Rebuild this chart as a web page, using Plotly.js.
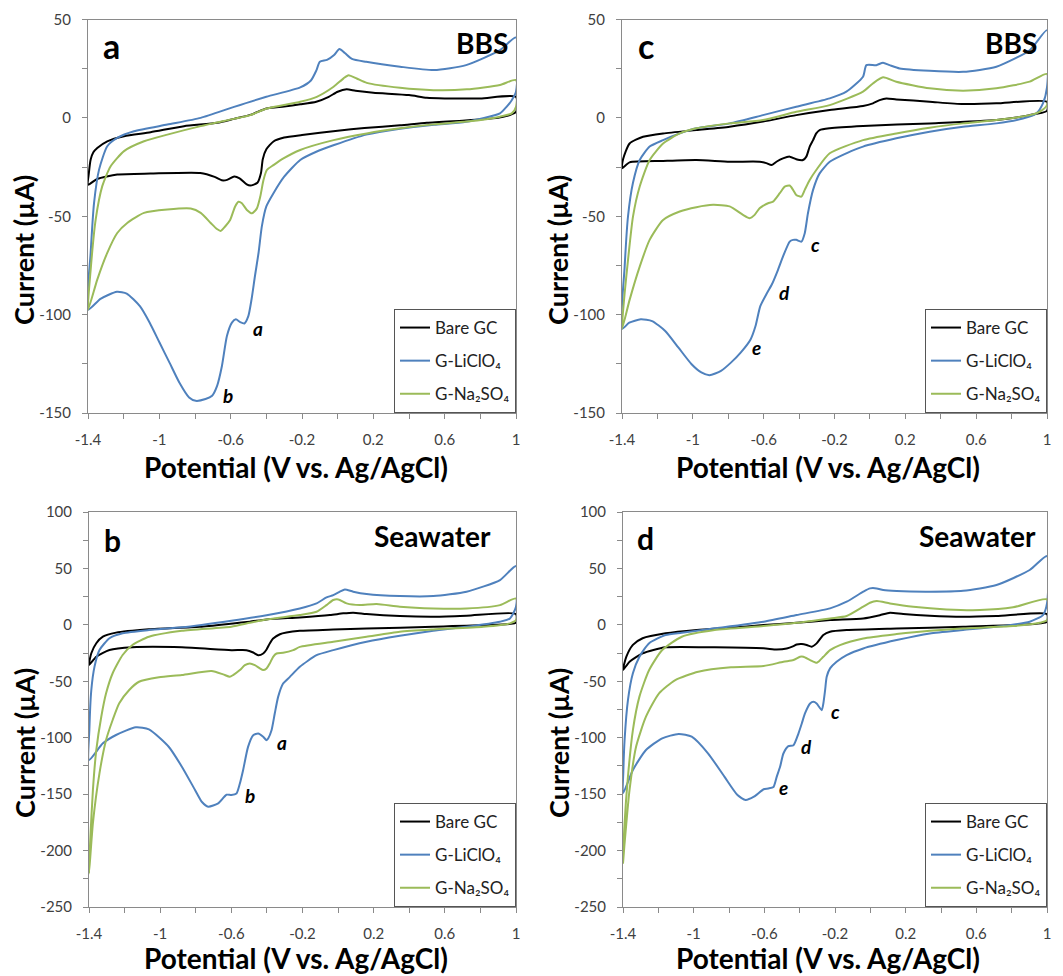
<!DOCTYPE html>
<html>
<head>
<meta charset="utf-8">
<script src="https://cdn.plot.ly/plotly-3.0.1.min.js"></script>
<style>html,body{margin:0;padding:0;background:#fff}#chart{width:1063px;height:976px}</style>
</head>
<body>
<div id="chart"></div>
<script>
// ---------- DATA (Potential V vs Ag/AgCl, Current µA), closed CV loops ----------
// Panel a (BBS)
const aBareV = [-1.40,-1.395,-1.385,-1.37,-1.348,-1.292,-1.198,-1.049,-0.862,-0.675,-0.581,-0.49,-0.40,-0.30,-0.21,-0.12,-0.05,0.0,0.05,0.10,0.20,0.40,0.50,0.60,0.80,1.0,
  1.0,0.95,0.90,0.80,0.70,0.50,0.35,0.15,0.0,-0.20,-0.30,-0.36,-0.40,-0.42,-0.43,-0.45,-0.49,-0.51,-0.55,-0.58,-0.62,-0.65,-0.69,-0.77,-1.05,-1.236,-1.348,-1.40];
const aBareI = [-34,-28,-21.2,-17.5,-15.3,-11.9,-9.3,-7.3,-4.2,-2.5,-0.5,1.5,4.8,5.8,6.9,8.2,10.7,13.3,14.5,13.8,12.8,11.6,10.2,9.9,9.9,10.7,
  3,1,0,-0.8,-1.4,-2.5,-3.8,-5.2,-6.5,-8.7,-10,-12,-16,-21,-28,-33,-34.4,-33.8,-30.7,-29.8,-31.5,-31.7,-30,-28,-28.3,-28.8,-31,-34];
const aLiV = [-1.40,-1.385,-1.366,-1.338,-1.292,-1.236,-1.142,-0.955,-0.768,-0.581,-0.40,-0.21,-0.15,-0.12,-0.10,-0.06,-0.02,0.01,0.04,0.08,0.16,0.35,0.54,0.72,0.91,1.0,
  1.0,0.976,0.948,0.91,0.72,0.54,0.35,0.16,-0.02,-0.12,-0.21,-0.30,-0.36,-0.40,-0.425,-0.444,-0.464,-0.483,-0.501,-0.523,-0.547,-0.571,-0.593,-0.621,-0.649,-0.676,-0.704,-0.741,-0.796,-0.833,-0.888,-0.943,-0.999,-1.054,-1.109,-1.183,-1.238,-1.33,-1.40];
const aLiI = [-97.5,-68.6,-43.2,-26.3,-14.4,-10.2,-6.8,-3.4,0,5.6,10.7,15.5,19,24,28.5,29.5,32,35,33,30,28.5,26,24.3,26.8,34.4,40.9,
  13.3,9,5.7,2.3,-2,-3.5,-5.5,-8.5,-13.8,-17.2,-21.4,-29.9,-38.3,-45,-55,-68.8,-80.5,-92.3,-100.8,-104.5,-103.8,-102.4,-104.1,-110.9,-126.1,-136.2,-141.2,-142.9,-143.8,-142.1,-134.5,-124.4,-114.2,-104.1,-95.7,-89.3,-88.4,-92,-97.5];
const aNaV = [-1.40,-1.385,-1.357,-1.32,-1.273,-1.198,-1.086,-0.955,-0.768,-0.581,-0.49,-0.397,-0.21,-0.117,-0.023,0.033,0.061,0.107,0.163,0.35,0.537,0.724,0.91,1.0,
  1.0,0.976,0.91,0.724,0.537,0.35,0.163,-0.023,-0.21,-0.304,-0.36,-0.397,-0.416,-0.434,-0.453,-0.48,-0.509,-0.537,-0.556,-0.575,-0.603,-0.631,-0.656,-0.677,-0.712,-0.768,-0.824,-0.955,-1.086,-1.18,-1.236,-1.292,-1.348,-1.40];
const aNaI = [-97.5,-77.1,-51.7,-34.7,-24.6,-16.9,-11.9,-8.5,-4.2,-0.5,1.4,4.8,8.2,10.7,15.8,20.1,21.7,20,17.8,15.3,14.1,14.5,16.7,19.2,
  5.7,2.3,0.6,-1.9,-3.3,-5.3,-7.9,-11.3,-16.3,-20.6,-24,-26.5,-31.6,-40,-46,-48.5,-46.8,-43.4,-42.6,-45,-51.9,-55.2,-57.5,-56.5,-53.4,-48.3,-46.1,-46.6,-48.3,-53.4,-58.5,-68.6,-82.2,-97.5];

// Panel c (BBS)
const cBareV = [-1.40,-1.394,-1.357,-1.281,-1.168,-0.98,-0.792,-0.604,-0.416,-0.227,-0.039,0.017,0.055,0.093,0.149,0.337,0.526,0.714,1.0,
  1.0,0.902,0.714,0.337,-0.039,-0.227,-0.284,-0.303,-0.321,-0.34,-0.359,-0.378,-0.397,-0.416,-0.453,-0.491,-0.528,-0.556,-0.585,-0.623,-0.792,-0.98,-1.168,-1.357,-1.40];
const cBareI = [-25.6,-21,-13,-9.6,-7.9,-6.2,-4.5,-1.9,1.4,4,6,7.4,9,9.9,9.4,8.2,7,7.4,8.2,
  3.6,1.4,-1.1,-2.8,-4.1,-5.3,-6.2,-7.9,-11.3,-14.6,-19.7,-21.4,-21.4,-21,-19.7,-20.6,-22.3,-24,-23,-22.3,-22.3,-21.4,-21.9,-22.6,-25.6];
const cLiV = [-1.40,-1.385,-1.366,-1.338,-1.30,-1.244,-1.168,-1.074,-0.98,-0.792,-0.604,-0.416,-0.227,-0.133,-0.039,-0.02,0.036,0.074,0.111,0.168,0.337,0.526,0.714,0.902,1.0,
  1.0,0.977,0.94,0.864,0.714,0.526,0.337,0.149,-0.039,-0.133,-0.227,-0.284,-0.321,-0.35,-0.368,-0.387,-0.416,-0.434,-0.453,-0.491,-0.519,-0.554,-0.581,-0.619,-0.646,-0.674,-0.73,-0.785,-0.841,-0.906,-0.952,-1.007,-1.081,-1.156,-1.23,-1.294,-1.359,-1.40];
const cLiI = [-107.2,-75.6,-50,-33,-21.4,-14.6,-11.3,-7.9,-5.3,-2.8,1.4,5.7,9.9,13.3,20.9,26.8,26.8,28,26.8,25.1,23.9,23.4,26,34.4,44.6,
  15.5,7.4,2.3,-0.3,-2.8,-4.5,-7,-10.4,-14.6,-18,-22.3,-28.2,-36.6,-48.5,-58.6,-62.9,-62,-62,-62.9,-70.5,-77.2,-84.7,-89,-95.7,-105.8,-112.6,-119.3,-124.4,-128.6,-130.8,-129.4,-125.2,-116.8,-108.3,-103.3,-102.4,-104.1,-107.2];
const cNaV = [-1.40,-1.385,-1.366,-1.338,-1.30,-1.244,-1.168,-1.074,-0.98,-0.792,-0.604,-0.416,-0.227,-0.039,0.017,0.074,0.149,0.337,0.526,0.714,0.902,1.0,
  1.0,0.958,0.902,0.714,0.526,0.337,0.149,-0.039,-0.227,-0.303,-0.34,-0.368,-0.387,-0.416,-0.434,-0.453,-0.481,-0.509,-0.547,-0.575,-0.594,-0.623,-0.651,-0.679,-0.717,-0.792,-0.886,-0.98,-1.074,-1.168,-1.244,-1.30,-1.357,-1.40];
const cNaI = [-107.2,-89,-72.2,-50.2,-34.9,-21.4,-13,-7.9,-5.3,-2.8,-1.1,3.1,6.5,13.3,17.5,20.6,18.4,15,13.8,15,18.4,22.3,
  6.5,3.1,1.4,-1.1,-2.8,-5,-7.9,-11.3,-18,-26.5,-31.6,-36.6,-40,-39.2,-36.6,-34.4,-34.9,-38.3,-42.6,-43.4,-44.2,-45.9,-49.3,-51,-49.3,-45,-44.2,-45.4,-47.6,-51.9,-62,-75.6,-92.5,-107.2];

// Panel b (Seawater)
const bBareV = [-1.40,-1.387,-1.359,-1.322,-1.248,-1.063,-0.777,-0.59,-0.496,-0.402,-0.215,-0.046,0.029,0.085,0.16,0.347,0.535,0.722,1.0,
  1.0,0.816,0.535,0.16,-0.027,-0.215,-0.29,-0.327,-0.365,-0.384,-0.402,-0.421,-0.449,-0.477,-0.515,-0.60,-0.878,-1.156,-1.285,-1.359,-1.40];
const bBareI = [-35.6,-25.2,-16.3,-10.5,-6.9,-3.9,-1.7,1.3,2.8,4.8,6.6,8.7,10.2,10.8,9.6,7.8,7.2,8.1,9.6,
  1.9,-0.2,-1.7,-3.2,-4.1,-5.3,-6.8,-8.3,-12.1,-16.5,-21.8,-25.4,-26.9,-24.5,-22.4,-22.4,-19.9,-19.9,-22.3,-28.2,-35.6];
const bLiV = [-1.40,-1.398,-1.387,-1.369,-1.341,-1.285,-1.211,-1.063,-0.878,-0.60,-0.402,-0.215,-0.121,-0.065,-0.027,0.01,0.038,0.085,0.16,0.347,0.535,0.722,0.91,1.0,
  1.0,0.966,0.91,0.722,0.535,0.347,0.16,-0.027,-0.121,-0.215,-0.271,-0.309,-0.337,-0.356,-0.374,-0.393,-0.402,-0.421,-0.449,-0.477,-0.506,-0.534,-0.552,-0.571,-0.60,-0.627,-0.674,-0.73,-0.765,-0.804,-0.878,-0.952,-1.063,-1.137,-1.248,-1.322,-1.40];
const bLiI = [-119.7,-93.2,-57.7,-37,-22.3,-11.9,-7.5,-4.6,-2.2,3.7,8.6,14.5,19,24.3,26.4,29.4,31.4,29.4,27.3,25.5,25.5,29.4,39.7,52.1,
  16,5.7,2.8,-1.7,-5.2,-9.6,-14.9,-22.4,-26.9,-37.2,-46.1,-52,-63.8,-78.6,-93.4,-100.7,-102.2,-99.2,-96.3,-97.8,-108.1,-128.8,-140.6,-149.5,-150.8,-150.5,-158.1,-161.1,-157,-146.3,-125.7,-108,-92.6,-90.8,-97.6,-105,-119.7];
const bNaV = [-1.40,-1.393,-1.378,-1.359,-1.331,-1.304,-1.267,-1.211,-1.156,-1.063,-0.878,-0.60,-0.496,-0.402,-0.215,-0.121,-0.065,-0.027,0.001,0.048,0.122,0.216,0.347,0.535,0.722,0.91,1.0,
  1.0,0.966,0.816,0.535,0.347,0.16,-0.027,-0.215,-0.252,-0.309,-0.346,-0.365,-0.384,-0.402,-0.421,-0.44,-0.468,-0.496,-0.524,-0.552,-0.59,-0.609,-0.646,-0.711,-0.878,-1.007,-1.119,-1.174,-1.23,-1.267,-1.304,-1.341,-1.378,-1.40];
const bNaI = [-220.4,-190.6,-146.3,-110.9,-81.4,-60.7,-42.9,-26.7,-17.8,-10.5,-5.2,-1.6,1.8,4.8,8.7,11.6,17.5,22,22.5,19,17.5,18.4,16,14.5,14.5,17.5,23.4,
  4.2,1.3,-1.7,-4.1,-6.2,-10.6,-15,-19.5,-22.4,-24.8,-25.4,-28.3,-34.2,-38.6,-40.1,-38.6,-35.7,-34.2,-35.7,-40.1,-44.5,-46,-43.9,-40.9,-44.4,-46.5,-50.4,-57.7,-69.5,-84.3,-102,-131.3,-175.6,-220.4];

// Panel d (Seawater)
const dBareV = [-1.40,-1.381,-1.344,-1.289,-1.159,-0.982,-0.793,-0.605,-0.417,-0.228,-0.04,0.054,0.111,0.186,0.337,0.525,0.714,1.0,
  1.0,0.808,0.525,0.149,-0.134,-0.228,-0.266,-0.304,-0.332,-0.36,-0.388,-0.417,-0.435,-0.473,-0.53,-0.604,-0.881,-1.159,-1.289,-1.363,-1.40];
const dBareI = [-40,-28.2,-17.8,-11.9,-7.5,-4.5,-2.5,-0.2,1.8,4.2,5.7,8.6,10.8,9.6,8.1,7.2,7.8,9.6,
  2.7,-0.2,-1.7,-3.2,-4.6,-6.1,-9,-16.4,-19.4,-17.9,-17,-17.4,-18.8,-20.9,-21.8,-20.8,-19.9,-19.9,-25.2,-32.6,-40];
const dLiV = [-1.40,-1.398,-1.391,-1.372,-1.344,-1.307,-1.252,-1.159,-1.067,-0.881,-0.604,-0.417,-0.228,-0.134,-0.04,-0.002,0.036,0.073,0.149,0.337,0.525,0.714,0.902,1.0,
  1.0,0.977,0.902,0.714,0.525,0.337,0.149,-0.04,-0.134,-0.191,-0.228,-0.247,-0.256,-0.266,-0.275,-0.304,-0.322,-0.341,-0.37,-0.388,-0.407,-0.435,-0.464,-0.492,-0.511,-0.53,-0.548,-0.577,-0.604,-0.659,-0.706,-0.752,-0.826,-0.919,-1.011,-1.085,-1.178,-1.27,-1.344,-1.40];
const dLiI = [-149.3,-130,-102,-66.6,-42.9,-28.2,-16.3,-9,-6.9,-3.1,2.8,8.7,14.6,20.5,29.4,32.3,32.3,30.8,29.9,29.4,30.2,35.3,48.6,61,
  19,8.7,2.8,-1.7,-4.6,-7.6,-13.5,-20.9,-26.8,-32.7,-38.6,-46,-57.8,-69.7,-75.6,-69.7,-68.2,-69.7,-78.5,-87.4,-96.3,-106.6,-107.5,-114,-125.8,-134.7,-143.6,-145,-145.7,-152.3,-155.2,-150.8,-134.5,-113.8,-99.1,-96.7,-100.5,-110.9,-128.6,-149.3];
const dNaV = [-1.40,-1.391,-1.372,-1.344,-1.307,-1.252,-1.178,-1.067,-0.881,-0.605,-0.417,-0.228,-0.134,-0.04,-0.002,0.036,0.111,0.243,0.431,0.62,0.808,1.0,
  1.0,0.958,0.808,0.525,0.337,0.149,-0.04,-0.172,-0.228,-0.266,-0.294,-0.304,-0.341,-0.379,-0.398,-0.435,-0.492,-0.604,-0.789,-0.974,-1.104,-1.196,-1.27,-1.326,-1.363,-1.391,-1.40];
const dNaI = [-211,-175.8,-134.5,-93.2,-63.6,-40,-22.3,-10.5,-4.6,-1.1,1.8,5.7,7.8,16.1,19.6,21.1,19,16.1,13.7,13.1,15.5,22.6,
  4.2,1.8,-1.1,-3.2,-5.2,-8.2,-12,-17.9,-22.4,-28.3,-32.7,-33.6,-31.2,-28.3,-28.3,-31.2,-32.7,-36.5,-37.6,-41.5,-48.9,-60.7,-81.4,-108,-146.3,-193.6,-211];

const seriesNames = ['Bare GC', 'G-LiClO\u2084', 'G-Na\u2082SO\u2084'];
const xTickVals = [-1.4, -1, -0.6, -0.2, 0.2, 0.6, 1];
const xTickText = ['-1.4', '-1', '-0.6', '-0.2', '0.2', '0.6', '1'];
const yTickValsTop = [-150, -100, -50, 0, 50];
const yTickTextTop = ['-150', '-100', '-50', '0', '50'];
const yTickValsBot = [-250, -200, -150, -100, -50, 0, 50, 100];
const yTickTextBot = ['-250', '-200', '-150', '-100', '-50', '0', '50', '100'];

// ---------- STYLE ----------
const FONT = 'Lato, "Open Sans", sans-serif';
const colors = ['#000000', '#4F81BD', '#9BBB59'];
const axisGrey = '#8a8a8a';

const panels = [
  {key: 'a', xa: 'x',  ya: 'y',  lg: 'legend',  data: [[aBareV,aBareI],[aLiV,aLiI],[aNaV,aNaI]]},
  {key: 'c', xa: 'x2', ya: 'y2', lg: 'legend2', data: [[cBareV,cBareI],[cLiV,cLiI],[cNaV,cNaI]]},
  {key: 'b', xa: 'x3', ya: 'y3', lg: 'legend3', data: [[bBareV,bBareI],[bLiV,bLiI],[bNaV,bNaI]]},
  {key: 'd', xa: 'x4', ya: 'y4', lg: 'legend4', data: [[dBareV,dBareI],[dLiV,dLiI],[dNaV,dNaI]]}
];

const traces = [];
panels.forEach(p => {
  p.data.forEach((d, i) => {
    traces.push({
      type: 'scatter', mode: 'lines', x: d[0], y: d[1],
      xaxis: p.xa, yaxis: p.ya, legend: p.lg,
      name: seriesNames[i], legendgroup: p.key + i,
      line: {color: colors[i], width: 2, shape: 'spline', smoothing: 0.6},
      hoverinfo: 'skip'
    });
  });
});

function xAxis(domain, anchor) {
  return {
    domain: domain, anchor: anchor, range: [-1.4, 1], autorange: false,
    showgrid: false, zeroline: false, showline: true, linecolor: axisGrey, linewidth: 1, mirror: true,
    ticks: 'outside', ticklen: 5, tickcolor: axisGrey, tickwidth: 1,
    tickvals: xTickVals, ticktext: xTickText, ticklabelstandoff: 8,
    tickfont: {family: FONT, size: 15, color: '#404040'},
    minor: {tick0: -1.4, dtick: 0.2, ticks: 'outside', ticklen: 5, tickcolor: axisGrey, showgrid: false}
  };
}
function yAxis(domain, anchor, range, tv, tt) {
  return {
    domain: domain, anchor: anchor, range: range, autorange: false,
    showgrid: false, zeroline: false, showline: true, linecolor: axisGrey, linewidth: 1, mirror: true,
    ticks: 'outside', ticklen: 5, tickcolor: axisGrey, tickwidth: 1,
    tickvals: tv, ticktext: tt, ticklabelstandoff: 8,
    tickfont: {family: FONT, size: 15, color: '#404040'},
    minor: {dtick: 25, ticks: 'outside', ticklen: 5, tickcolor: axisGrey, showgrid: false}
  };
}

const W = 1063, H = 976;
const px = v => v / W, py = v => 1 - v / H;

const domA = {x: [px(88), px(516)], y: [py(413), py(19.5)]};
const domC = {x: [px(622), px(1047)], y: [py(413), py(19.5)]};
const domB = {x: [px(89), px(516)], y: [py(907), py(512)]};
const domD = {x: [px(623), px(1047)], y: [py(907), py(512)]};

function legend(xr, yb) {
  return {
    x: px(xr), y: py(yb), xanchor: 'right', yanchor: 'bottom',
    bgcolor: '#ffffff', bordercolor: '#555555', borderwidth: 1,
    font: {family: FONT, size: 17, color: '#222222'},
    traceorder: 'grouped', tracegroupgap: 8, itemwidth: 30
  };
}

const annotations = [];
function addText(text, x, y, size, opts) {
  annotations.push(Object.assign({
    text: text, x: x, y: y, xref: 'paper', yref: 'paper', showarrow: false,
    font: {family: FONT, size: size, color: '#000000'}
  }, opts || {}));
}
// panel letters and medium labels
const panelLabels = [
  {t: '<b>a</b>', xr: 'x domain', yr: 'y domain', x: 0.056, y: 0.935, s: 34},
  {t: '<b>BBS</b>', xr: 'x domain', yr: 'y domain', x: 0.985, y: 0.94, s: 28, anc: 'right'},
  {t: '<b>c</b>', xr: 'x2 domain', yr: 'y2 domain', x: 0.056, y: 0.935, s: 34},
  {t: '<b>BBS</b>', xr: 'x2 domain', yr: 'y2 domain', x: 0.98, y: 0.94, s: 28, anc: 'right'},
  {t: '<b>b</b>', xr: 'x3 domain', yr: 'y3 domain', x: 0.054, y: 0.929, s: 30},
  {t: '<b>Seawater</b>', xr: 'x3 domain', yr: 'y3 domain', x: 0.946, y: 0.939, s: 28, anc: 'right'},
  {t: '<b>d</b>', xr: 'x4 domain', yr: 'y4 domain', x: 0.052, y: 0.934, s: 30},
  {t: '<b>Seawater</b>', xr: 'x4 domain', yr: 'y4 domain', x: 0.979, y: 0.939, s: 28, anc: 'right'}
];
panelLabels.forEach(l => annotations.push({
  text: l.t, x: l.x, y: l.y, xref: l.xr, yref: l.yr, showarrow: false,
  xanchor: l.anc || 'center', yanchor: 'middle',
  font: {family: FONT, size: l.s, color: '#000000'}
}));
// peak labels (data coordinates)
const peakLabels = [
  {t: 'a', xr: 'x', yr: 'y', x: -0.447, y: -106.8},
  {t: 'b', xr: 'x', yr: 'y', x: -0.615, y: -140.9},
  {t: 'c', xr: 'x2', yr: 'y2', x: -0.31, y: -64.6},
  {t: 'd', xr: 'x2', yr: 'y2', x: -0.48, y: -89},
  {t: 'e', xr: 'x2', yr: 'y2', x: -0.638, y: -116.5},
  {t: 'a', xr: 'x3', yr: 'y3', x: -0.315, y: -103.8},
  {t: 'b', xr: 'x3', yr: 'y3', x: -0.495, y: -150.8},
  {t: 'c', xr: 'x4', yr: 'y4', x: -0.195, y: -77.2},
  {t: 'd', xr: 'x4', yr: 'y4', x: -0.364, y: -108.2},
  {t: 'e', xr: 'x4', yr: 'y4', x: -0.489, y: -144.5}
];
peakLabels.forEach(l => annotations.push({
  text: '<b><i>' + l.t + '</i></b>', x: l.x, y: l.y, xref: l.xr, yref: l.yr, showarrow: false,
  xanchor: 'center', yanchor: 'middle',
  font: {family: FONT, size: 19, color: '#000000'}
}));
// axis titles
const yTitle = '<b>Current (µA)</b>';
const xTitle = '<b>Potential (V vs. Ag/AgCl)</b>';
addText(yTitle, px(24), py(250), 27, {textangle: -90, xanchor: 'center', yanchor: 'middle'});
addText(yTitle, px(558), py(250), 27, {textangle: -90, xanchor: 'center', yanchor: 'middle'});
addText(yTitle, px(24), py(743), 27, {textangle: -90, xanchor: 'center', yanchor: 'middle'});
addText(yTitle, px(558), py(743), 27, {textangle: -90, xanchor: 'center', yanchor: 'middle'});
addText(xTitle, px(296), py(467), 28, {xanchor: 'center', yanchor: 'middle'});
addText(xTitle, px(828), py(467), 28, {xanchor: 'center', yanchor: 'middle'});
addText(xTitle, px(296), py(958), 28, {xanchor: 'center', yanchor: 'middle'});
addText(xTitle, px(828), py(958), 28, {xanchor: 'center', yanchor: 'middle'});

const layout = {
  width: W, height: H, margin: {l: 0, r: 0, t: 0, b: 0},
  paper_bgcolor: '#ffffff', plot_bgcolor: '#ffffff',
  font: {family: FONT},
  showlegend: true,
  xaxis: xAxis(domA.x, 'y'),  yaxis: yAxis(domA.y, 'x', [-150, 50], yTickValsTop, yTickTextTop),
  xaxis2: xAxis(domC.x, 'y2'), yaxis2: yAxis(domC.y, 'x2', [-150, 50], yTickValsTop, yTickTextTop),
  xaxis3: xAxis(domB.x, 'y3'), yaxis3: yAxis(domB.y, 'x3', [-250, 100], yTickValsBot, yTickTextBot),
  xaxis4: xAxis(domD.x, 'y4'), yaxis4: yAxis(domD.y, 'x4', [-250, 100], yTickValsBot, yTickTextBot),
  legend: legend(516, 413), legend2: legend(1047, 413), legend3: legend(516, 907), legend4: legend(1047, 907),
  annotations: annotations
};

Plotly.newPlot('chart', traces, layout, {staticPlot: true, displayModeBar: false});
</script>
</body>
</html>
